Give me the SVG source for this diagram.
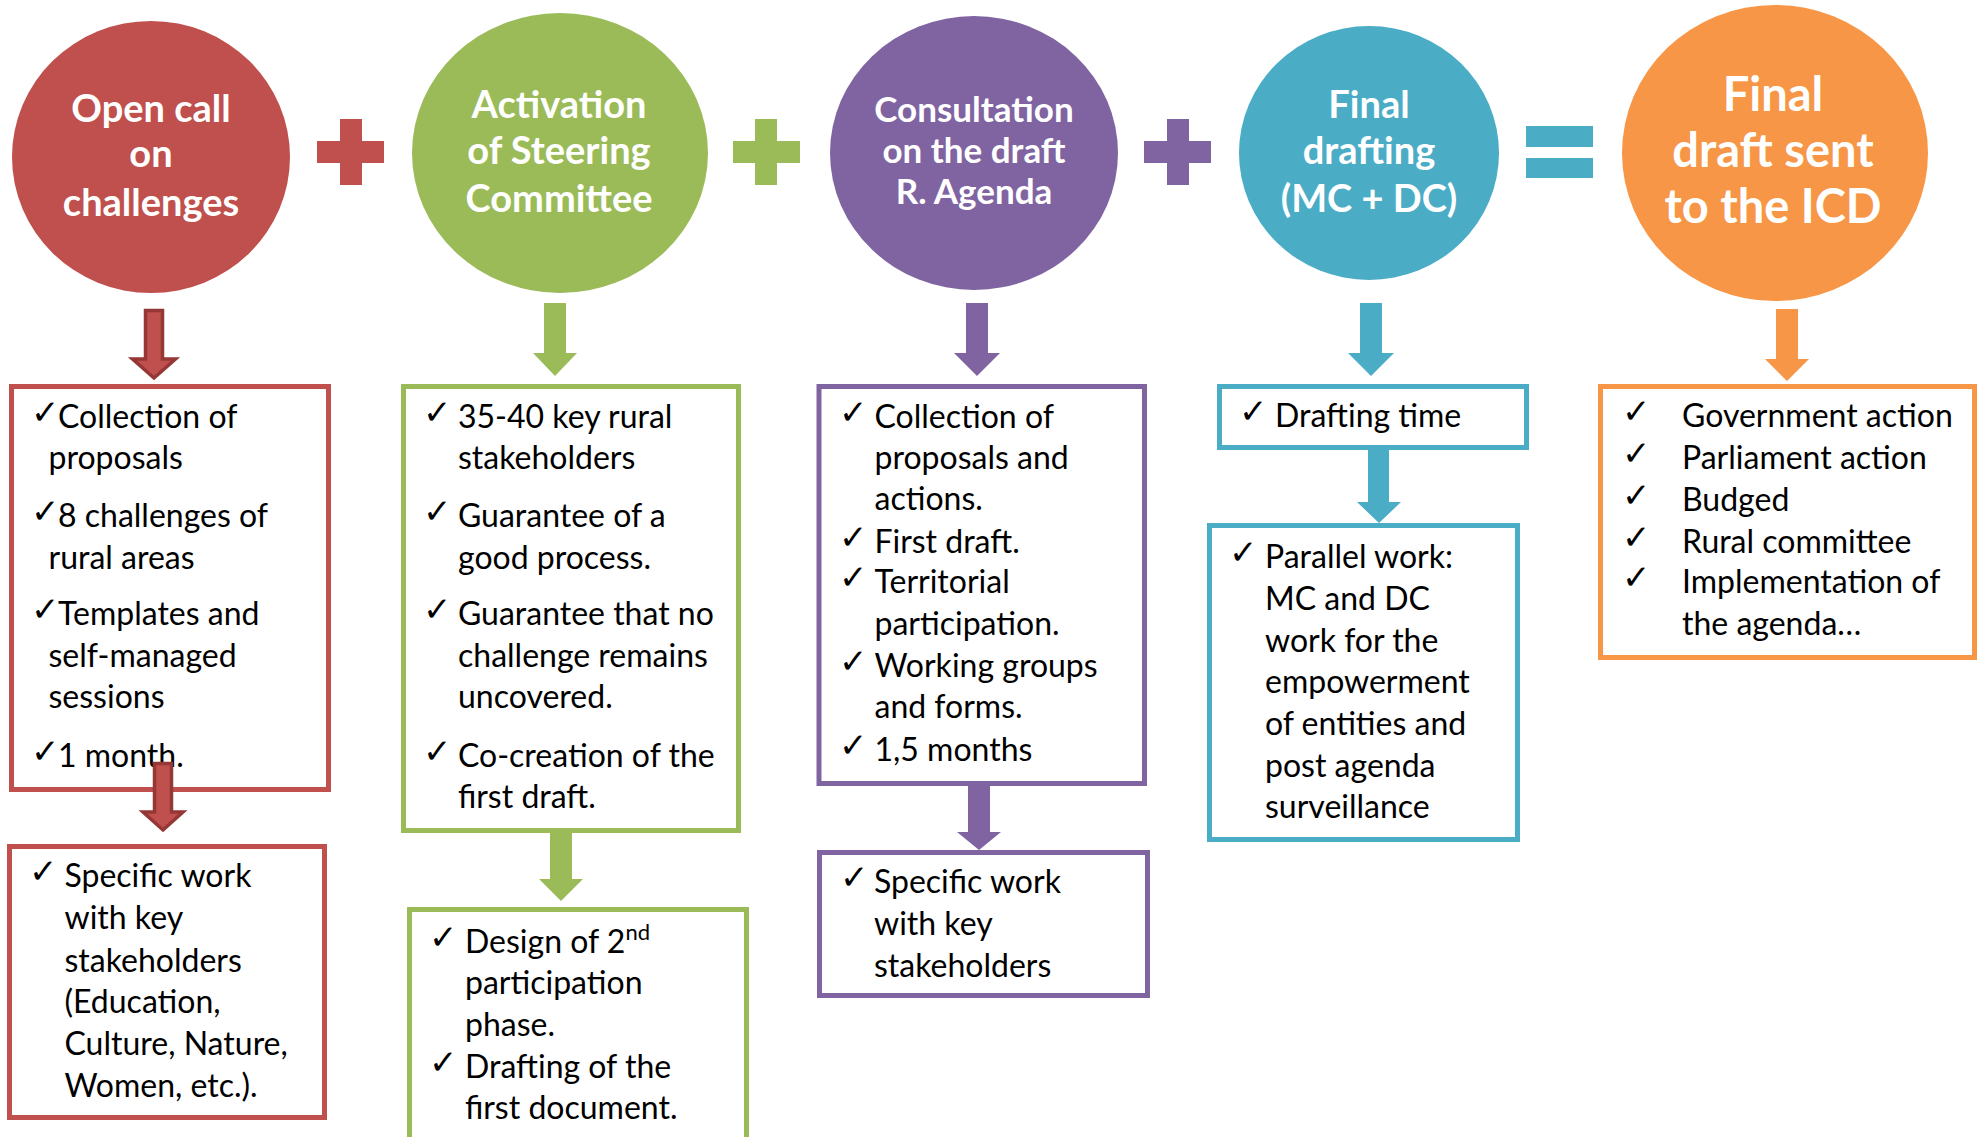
<svg xmlns="http://www.w3.org/2000/svg" width="1980" height="1137" viewBox="0 0 1980 1137">
<style>
.ct{font-family:Lato,"Open Sans","Liberation Sans",sans-serif;font-weight:bold;fill:#fff;text-anchor:middle}
.bt{font-family:Lato,"Open Sans","Liberation Sans",sans-serif;font-size:32px;fill:#000}
.ot{font-family:Lato,"Open Sans","Liberation Sans",sans-serif;font-size:32px;fill:#000}
.ck{font-family:"DejaVu Sans",sans-serif;font-size:34px;fill:#000}
.box{fill:#fff;stroke-width:5}
.red{stroke:#C0504D}.grn{stroke:#9BBB59}.pur{stroke:#8064A2}.blu{stroke:#4BACC6}.org{stroke:#F79646}
</style>
<rect width="1980" height="1137" fill="#fff"/>

<g id="circle-open-call">
<ellipse cx="151" cy="157" rx="139" ry="136" fill="#C0504D"/>
<text class="ct" font-size="38" x="151" y="122">Open call</text>
<text class="ct" font-size="38" x="151" y="167">on</text>
<text class="ct" font-size="38" x="151" y="216">challenges</text>
</g>
<g id="circle-steering">
<ellipse cx="560" cy="153" rx="148" ry="140" fill="#9BBB59"/>
<text class="ct" font-size="38" x="559" y="118">Activation</text>
<text class="ct" font-size="38" x="559" y="164">of Steering</text>
<text class="ct" font-size="38" x="559" y="212">Committee</text>
</g>
<g id="circle-consultation">
<ellipse cx="974" cy="153" rx="144" ry="137" fill="#8064A2"/>
<text class="ct" font-size="35" x="974" y="122">Consultation</text>
<text class="ct" font-size="35" x="974" y="163">on the draft</text>
<text class="ct" font-size="35" x="974" y="204">R. Agenda</text>
</g>
<g id="circle-final-drafting">
<ellipse cx="1369" cy="153" rx="130" ry="127" fill="#4BACC6"/>
<text class="ct" font-size="38" x="1369" y="118">Final</text>
<text class="ct" font-size="38" x="1369" y="164">drafting</text>
<text class="ct" font-size="38" x="1369" y="212">(MC + DC)</text>
</g>
<g id="circle-final-draft">
<ellipse cx="1775" cy="153" rx="153" ry="148" fill="#F79646"/>
<text class="ct" font-size="47" x="1773" y="111">Final</text>
<text class="ct" font-size="47" x="1773" y="167">draft sent</text>
<text class="ct" font-size="47" x="1773" y="223">to the ICD</text>
</g>

<g id="operators">
<path d="M340,119h22v22h22v22h-22v22h-22v-22h-23v-22h23z" fill="#C0504D"/>
<path d="M755,119h22v22h23v22h-23v22h-22v-22h-22v-22h22z" fill="#9BBB59"/>
<path d="M1167,119h22v22h22v22h-22v22h-22v-22h-23v-22h23z" fill="#8064A2"/>
<rect x="1526" y="126" width="67" height="21" fill="#4BACC6"/>
<rect x="1526" y="158" width="67" height="20" fill="#4BACC6"/>
</g>

<g id="box-red-1">
<rect class="box red" x="11.5" y="386.5" width="317" height="403"/>
<text class="ck" x="31" y="424">✓</text><text class="bt" x="58" y="428">Collection of</text>
<text class="bt" x="48.5" y="469">proposals</text>
<text class="ck" x="31" y="523">✓</text><text class="bt" x="58" y="527">8 challenges  of</text>
<text class="bt" x="48.5" y="569">rural areas</text>
<text class="ck" x="31" y="621">✓</text><text class="bt" x="58" y="625">Templates  and</text>
<text class="bt" x="48.5" y="667">self-managed</text>
<text class="bt" x="48.5" y="708">sessions</text>
<text class="ck" x="31" y="763">✓</text><text class="bt" x="58" y="767">1 month.</text>
</g>
<g id="box-red-2">
<rect class="box red" x="9.5" y="846.5" width="315" height="271"/>
<text class="ck" x="29" y="883">✓</text>
<text class="bt" x="64.5" y="887">Specific work</text>
<text class="bt" x="64.5" y="929">with key</text>
<text class="bt" x="64.5" y="972">stakeholders</text>
<text class="bt" x="64.5" y="1013">(Education,</text>
<text class="bt" x="64.5" y="1055">Culture, Nature,</text>
<text class="bt" x="64.5" y="1097">Women,  etc.).</text>
</g>
<g id="box-green-1">
<rect class="box grn" x="403.5" y="386.5" width="335" height="444"/>
<text class="ck" x="423" y="424">✓</text><text class="bt" x="458" y="428">35-40 key rural</text>
<text class="bt" x="458" y="469">stakeholders</text>
<text class="ck" x="423" y="523">✓</text><text class="bt" x="458" y="527">Guarantee of a</text>
<text class="bt" x="458" y="569">good process.</text>
<text class="ck" x="423" y="621">✓</text><text class="bt" x="458" y="625">Guarantee that no</text>
<text class="bt" x="458" y="667">challenge  remains</text>
<text class="bt" x="458" y="708">uncovered.</text>
<text class="ck" x="423" y="763">✓</text><text class="bt" x="458" y="767">Co-creation  of the</text>
<text class="bt" x="458" y="808">first draft.</text>
</g>
<g id="box-green-2">
<rect class="box grn" x="409.5" y="909.5" width="337" height="240"/>
<text class="ck" x="429" y="949">✓</text><text class="bt" x="465" y="953">Design of 2<tspan font-size="22" dy="-13">nd</tspan></text>
<text class="bt" x="465" y="994">participation</text>
<text class="bt" x="465" y="1036">phase.</text>
<text class="ck" x="429" y="1074">✓</text><text class="bt" x="465" y="1078">Drafting of the</text>
<text class="bt" x="465" y="1119">first document.</text>
</g>
<g id="box-purple-1">
<rect class="box pur" x="819" y="386.5" width="325.5" height="397"/>
<text class="ck" x="839" y="424">✓</text><text class="bt" x="874.5" y="428">Collection of</text>
<text class="bt" x="874.5" y="469">proposals and</text>
<text class="bt" x="874.5" y="510">actions.</text>
<text class="ck" x="839" y="549">✓</text><text class="bt" x="874.5" y="553">First draft.</text>
<text class="ck" x="839" y="589">✓</text><text class="bt" x="874.5" y="593">Territorial</text>
<text class="bt" x="874.5" y="635">participation.</text>
<text class="ck" x="839" y="673">✓</text><text class="bt" x="874.5" y="677">Working groups</text>
<text class="bt" x="874.5" y="718">and forms.</text>
<text class="ck" x="839" y="757">✓</text><text class="bt" x="874.5" y="761">1,5 months</text>
</g>
<g id="box-purple-2">
<rect class="box pur" x="819.5" y="852.5" width="328" height="143"/>
<text class="ck" x="840" y="889">✓</text><text class="bt" x="874" y="893">Specific work</text>
<text class="bt" x="874" y="935">with  key</text>
<text class="bt" x="874" y="977">stakeholders</text>
</g>
<g id="box-blue-1">
<rect class="box blu" x="1219.5" y="386.5" width="307" height="61"/>
<text class="ck" x="1239" y="423">✓</text><text class="bt" x="1275" y="427">Drafting time</text>
</g>
<g id="box-blue-2">
<rect class="box blu" x="1209.5" y="525.5" width="308" height="314"/>
<text class="ck" x="1229" y="564">✓</text><text class="bt" x="1265" y="568">Parallel work:</text>
<text class="bt" x="1265" y="610">MC and DC</text>
<text class="bt" x="1265" y="652">work for the</text>
<text class="bt" x="1265" y="693">empowerment</text>
<text class="bt" x="1265" y="735">of entities and</text>
<text class="bt" x="1265" y="777">post agenda</text>
<text class="bt" x="1265" y="818">surveillance</text>
</g>
<g id="box-orange">
<rect class="box org" x="1600.5" y="386.5" width="374" height="271"/>
<text class="ck" x="1622" y="423">✓</text><text class="ot" x="1682" y="427">Government action</text>
<text class="ck" x="1622" y="465">✓</text><text class="ot" x="1682" y="469">Parliament action</text>
<text class="ck" x="1622" y="507">✓</text><text class="ot" x="1682" y="511">Budged</text>
<text class="ck" x="1622" y="549">✓</text><text class="ot" x="1682" y="553">Rural committee</text>
<text class="ck" x="1622" y="589">✓</text><text class="ot" x="1682" y="593">Implementation of</text>
<text class="ot" x="1682" y="635">the agenda…</text>
</g>

<g id="connectors">
<polygon points="145.5,310.5 162.5,310.5 162.5,359 175.5,359 154,378 132.5,359 145.5,359" fill="#C0504D" stroke="#953735" stroke-width="3.5" stroke-linejoin="miter"/>
<polygon points="154.5,763.5 171.5,763.5 171.5,812 183,812 163,830 143,812 154.5,812" fill="#C0504D" stroke="#953735" stroke-width="3.5"/>
<polygon points="544,303 566,303 566,353 577,353 555,376 533,353 544,353" fill="#9BBB59"/>
<polygon points="550,830 572,830 572,879 583,879 561,901 539,879 550,879" fill="#9BBB59"/>
<polygon points="966,303 988,303 988,353 1000,353 977,376 954,353 966,353" fill="#8064A2"/>
<polygon points="968,786 990,786 990,832 1001,832 979,850 957,832 968,832" fill="#8064A2"/>
<polygon points="1360,303 1382,303 1382,353 1394,353 1371,376 1348,353 1360,353" fill="#4BACC6"/>
<polygon points="1368,450 1389,450 1389,502 1401,502 1379,523 1357,502 1368,502" fill="#4BACC6"/>
<polygon points="1776,309 1798,309 1798,359 1809,359 1787,381 1765,359 1776,359" fill="#F79646"/>
</g>
</svg>
